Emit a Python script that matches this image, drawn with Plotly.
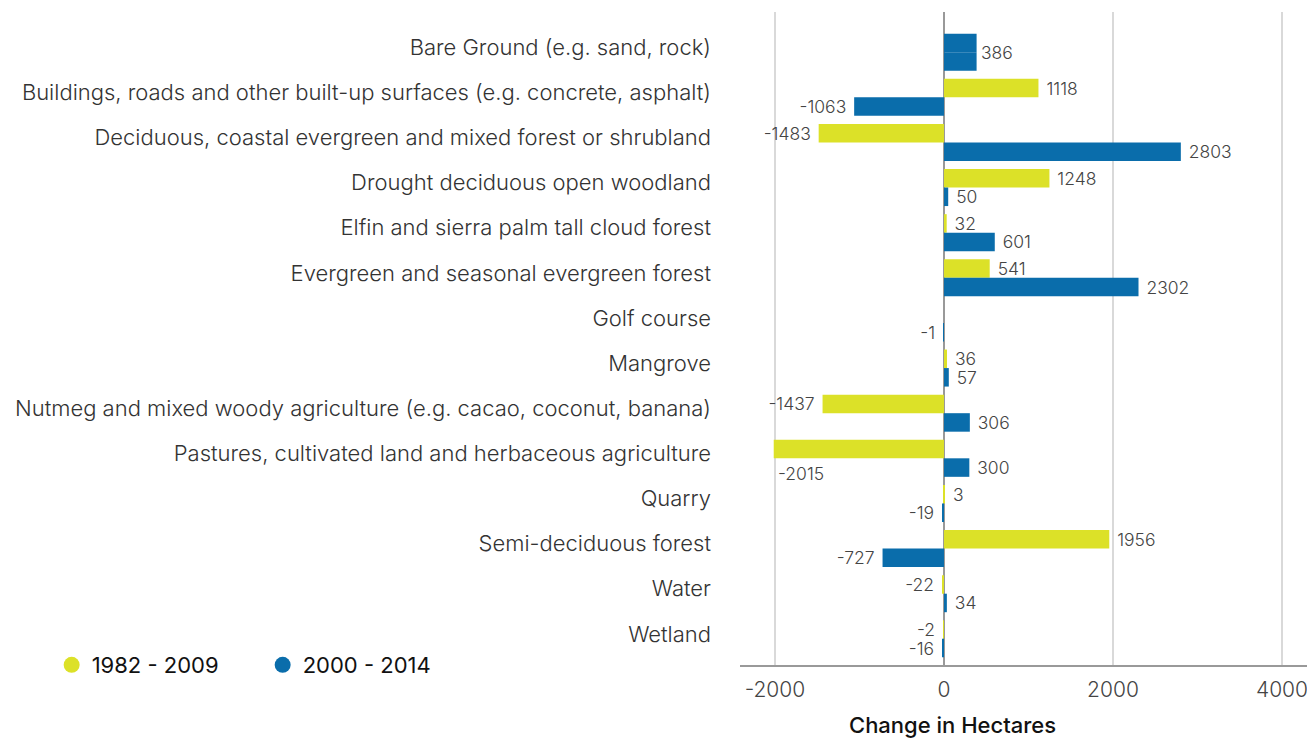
import plotly.graph_objects as go

categories = [
    "Bare Ground (e.g. sand, rock)",
    "Buildings, roads and other built-up surfaces (e.g. concrete, asphalt)",
    "Deciduous, coastal evergreen and mixed forest or shrubland",
    "Drought deciduous open woodland",
    "Elfin and sierra palm tall cloud forest",
    "Evergreen and seasonal evergreen forest",
    "Golf course",
    "Mangrove",
    "Nutmeg and mixed woody agriculture (e.g. cacao, coconut, banana)",
    "Pastures, cultivated land and herbaceous agriculture",
    "Quarry",
    "Semi-deciduous forest",
    "Water",
    "Wetland",
]
series_names = ["1982 - 2009", "2000 - 2014"]
values_1982_2009 = [386, 1118, -1483, 1248, 32, 541, None, 36, -1437, -2015, 3, 1956, -22, -2]
values_2000_2014 = [386, -1063, 2803, 50, 601, 2302, -1, 57, 306, 300, -19, -727, 34, -16]
x_ticks = [-2000, 0, 2000, 4000]
x_title = "Change in Hectares"

YELLOW = "#DCE128"
BLUE = "#0A6DAB"
FONT = "Inter"
LABEL_FONT = dict(family=FONT, size=17.5, color="#444", weight=300)

def labels(vals, skip):
    out = []
    for i, v in enumerate(vals):
        if v is None or i in skip:
            out.append("")
        elif v >= 0:
            out.append(" " + str(v))
        else:
            out.append(str(v) + " ")
    return out

colors_1982 = [BLUE if i == 0 else YELLOW for i in range(len(categories))]

fig = go.Figure()
fig.add_trace(go.Bar(
    y=categories, x=values_1982_2009, orientation="h", name=series_names[0],
    marker=dict(color=colors_1982, line=dict(width=0)),
    text=labels(values_1982_2009, {0, 9}), textposition="outside", constraintext="none",
    textfont=LABEL_FONT, cliponaxis=False, showlegend=False,
))
fig.add_trace(go.Bar(
    y=categories, x=values_2000_2014, orientation="h", name=series_names[1],
    marker=dict(color=BLUE, line=dict(width=0)),
    text=labels(values_2000_2014, {0}), textposition="outside", constraintext="none",
    textfont=LABEL_FONT, cliponaxis=False, showlegend=False,
))
for name, col in zip(series_names, [YELLOW, BLUE]):
    fig.add_trace(go.Scatter(x=[None], y=[None], mode="markers", name=name,
                             marker=dict(symbol="circle", size=22, color=col)))

fig.add_annotation(x=values_2000_2014[0], y=categories[0], text=str(values_2000_2014[0]),
                   showarrow=False, xanchor="left", xshift=2, font=LABEL_FONT)
fig.add_annotation(x=values_1982_2009[9], y=categories[9], text=str(values_1982_2009[9]),
                   showarrow=False, xanchor="left", xshift=2, yshift=-15, font=LABEL_FONT)
fig.add_annotation(xref="paper", yref="paper", x=0.374, y=-0.092, text=x_title,
                   showarrow=False, xanchor="center", yanchor="middle",
                   font=dict(family=FONT, size=22, color="#111", weight=500))

fig.update_layout(
    width=1307, height=739,
    margin=dict(l=740, r=0, t=12, b=74),
    paper_bgcolor="white", plot_bgcolor="white",
    barmode="group", bargap=0.18, bargroupgap=0,
    font=dict(family=FONT, color="#333"),
    legend=dict(orientation="h", x=-1.214, y=0, xanchor="left", yanchor="middle",
                font=dict(family=FONT, size=22, color="#111"),
                entrywidth=166, entrywidthmode="pixels",
                bgcolor="rgba(0,0,0,0)"),
    xaxis=dict(
        range=[-2414, 4296], tickvals=x_ticks, ticktext=[str(t) for t in x_ticks],
        showgrid=True, gridcolor="#d9d9d9", gridwidth=1.5,
        zeroline=True, zerolinecolor="#999", zerolinewidth=2,
        showline=True, linecolor="#999", linewidth=1.5,
        tickfont=dict(family=FONT, size=21, color="#444", weight=300),
        ticklabelstandoff=5, ticklabeloverflow="allow",
        fixedrange=True,
    ),
    yaxis=dict(
        range=[13.58, -0.89], type="category",
        tickfont=dict(family=FONT, size=22, color="#333", weight=300),
        ticks="", ticklabelstandoff=28, ticklabelshift=5,
        showgrid=False, showline=False, automargin=False, fixedrange=True,
    ),
)

fig.write_html("out.html", config={"displayModeBar": False},
               post_script="document.body.style.margin='0';")
